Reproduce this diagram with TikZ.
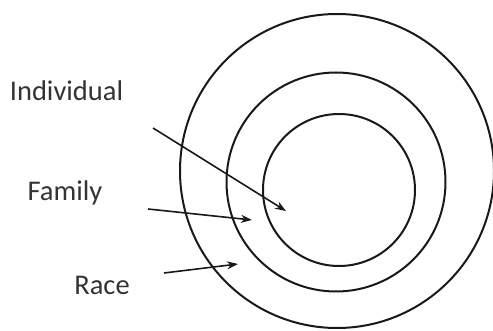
\documentclass[tikz,border=0pt]{standalone}
\usepackage{fontspec}
\setmainfont{Carlito}
\usetikzlibrary{arrows.meta}
\begin{document}
\begin{tikzpicture}[x=1pt,y=-1pt,
  ring/.style={draw=black!90,line width=2pt},
  lbl/.style={font=\fontsize{28.5}{31}\selectfont,text=black!80,inner sep=0pt,anchor=center},
  ptr/.style={draw=black!90,line width=1.6pt,-{Stealth[length=11pt,width=8pt]}}]
\useasboundingbox (0,0) rectangle (493,331);
\node[ring,circle,minimum size=314pt,inner sep=0pt] (race) at (337,171) {};
\node[ring,circle,minimum size=219pt,inner sep=0pt] (family) at (336,182) {};
\node[ring,circle,minimum size=152pt,inner sep=0pt] (indiv) at (339,190) {};
\node[lbl] (tI) at (66.5,91) {Individual};
\node[lbl] (tF) at (65,193) {Family};
\node[lbl] (tR) at (102,285) {Race};
\coordinate (sI) at (153,128);
\coordinate (eI) at (286,211);
\coordinate (sF) at (148,209);
\coordinate (eF) at (252,220);
\coordinate (sR) at (164,273);
\coordinate (eR) at (238,264);
\draw[ptr] (sI) -- (eI);
\draw[ptr] (sF) -- (eF);
\draw[ptr] (sR) -- (eR);
\end{tikzpicture}
\end{document}
